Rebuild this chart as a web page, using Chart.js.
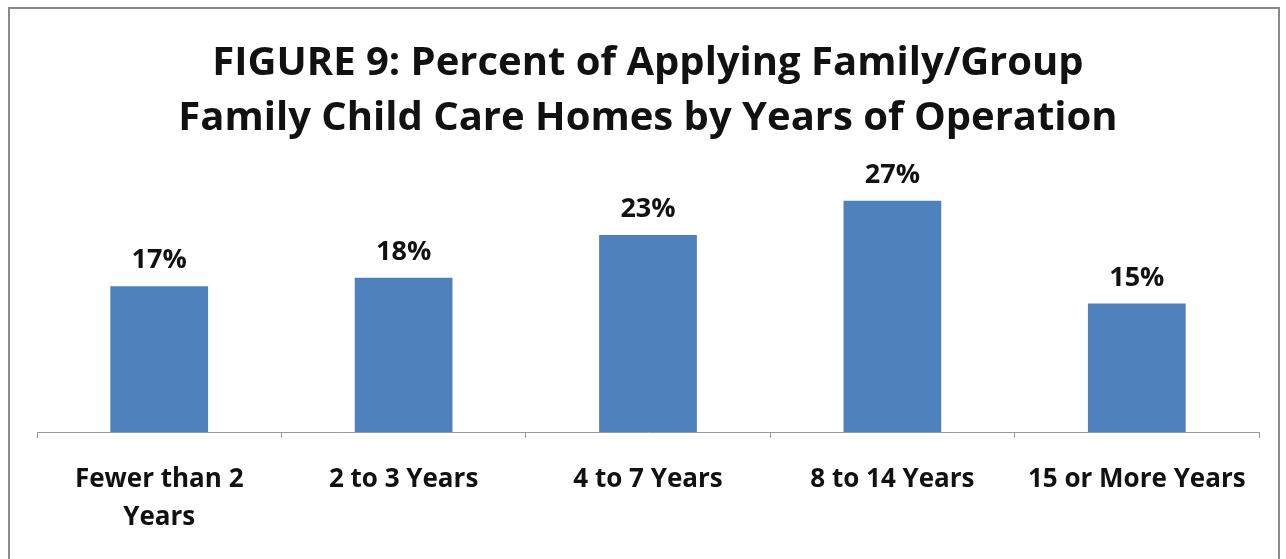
<!DOCTYPE html>
<html>
<head>
<meta charset="utf-8">
<script src="https://cdn.jsdelivr.net/npm/chart.js@4.4.1/dist/chart.umd.min.js"></script>
<style>
  html, body { margin: 0; padding: 0; background: #fff; }
  #wrap { position: relative; width: 1286px; height: 559px; overflow: hidden; }
  #frame {
    position: absolute; left: 8px; top: 7px; width: 1268px; height: 600px;
    border: 2px solid #8a8a8a; pointer-events: none;
  }
</style>
</head>
<body>
<div id="wrap">
  <canvas id="yearsChart" width="1286" height="559"></canvas>
  <div id="frame"></div>
</div>
<script>
const categories = [
        ['Fewer than 2', 'Years'],
        '2 to 3 Years',
        '4 to 7 Years',
        '8 to 14 Years',
        '15 or More Years',
];
const percents = [17, 18, 23, 27, 15];

const fontFamily = '"Open Sans", Lato, sans-serif';

// value labels above each bar
const valueLabels = {
        id: 'valueLabels',
        afterDatasetsDraw(chart) {
                const c = chart.ctx;
                const meta = chart.getDatasetMeta(0);
                c.save();
                c.font = 'bold 27px ' + fontFamily;
                c.fillStyle = '#111';
                c.textAlign = 'center';
                c.textBaseline = 'alphabetic';
                meta.data.forEach((bar, i) => {
                        c.fillText(percents[i] + '%', bar.x, bar.y - 18);
                });
                c.restore();
        }
};

const ctx = document.getElementById('yearsChart').getContext('2d');

const yearsChart = new Chart(ctx, {
        type: 'bar',
        data: {
                labels: categories,
                datasets: [{
                        data: percents,
                        backgroundColor: '#4F81BD',
                        categoryPercentage: 1,
                        barPercentage: 0.4,
                }],
        },
        options: {
                responsive: false,
                animation: false,
                layout: {
                        padding: { left: 37, right: 27, top: 0, bottom: 0 },
                },
                plugins: {
                        legend: { display: false },
                        tooltip: { enabled: false },
                        title: {
                                display: true,
                                text: ['FIGURE 9: Percent of Applying Family/Group', 'Family Child Care Homes by Years of Operation'],
                                color: '#111',
                                font: { family: fontFamily, size: 40, weight: 'bold', lineHeight: 1.375 },
                                padding: { top: 36, bottom: 29 },
                        },
                },
                scales: {
                        x: {
                                grid: {
                                        display: true,
                                        offset: true,
                                        drawOnChartArea: false,
                                        tickLength: 6,
                                        color: '#999',
                                },
                                border: { color: '#999', width: 1 },
                                ticks: {
                                        color: '#111',
                                        padding: 23,
                                        maxRotation: 0,
                                        autoSkip: false,
                                        font: { family: fontFamily, size: 26, weight: 'bold', lineHeight: 1.46 },
                                },
                                // keep the axis line at a fixed height above the bottom edge
                                afterFit(scale) {
                                        scale.height = 127;
                                },
                        },
                        y: {
                                display: false,
                                min: 0,
                                max: 30,
                        },
                },
        },
        plugins: [valueLabels],
});
</script>
</body>
</html>
